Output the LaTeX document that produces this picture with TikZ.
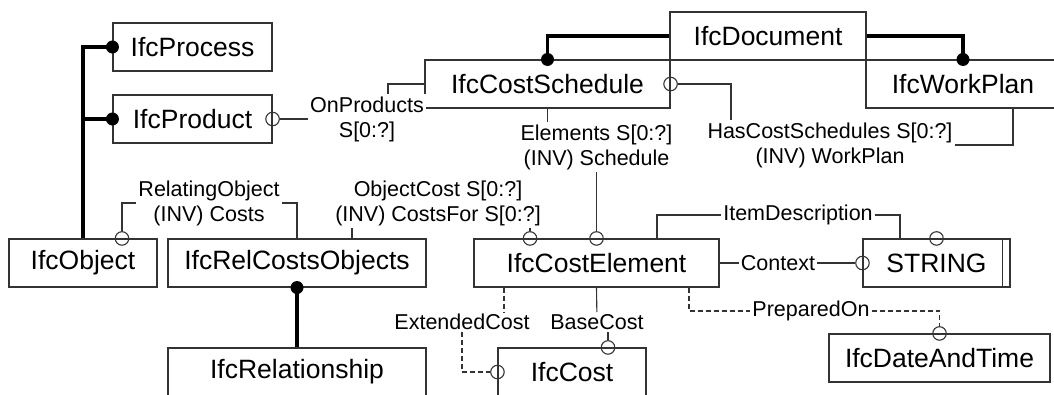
\documentclass[tikz,border=0pt]{standalone}
\usepackage{fontspec}
\setmainfont{Liberation Sans}
\begin{document}
\begin{tikzpicture}[x=1pt, y=-1pt,
    entidad/.style={draw=black!80, line width=1.1pt, rectangle, inner sep=0pt, minimum height=48pt, font=\fontsize{26.5}{30}\selectfont},
    etiqueta/.style={fill=white, inner sep=2pt, align=center, font=\fontsize{21.5}{25}\selectfont},
    linea/.style={draw=black!80, line width=1.1pt},
    rayada/.style={linea, dash pattern=on 5pt off 3pt},
    gruesa/.style={line width=3.5pt},
    punto/.style={fill=black, circle, inner sep=0pt, minimum size=13pt},
    abierto/.style={draw=black!80, line width=1.1pt, circle, inner sep=0pt, minimum size=13.5pt}]
    \useasboundingbox (0,0) rectangle (1054,394); % marco de la figura
    \clip (0,0) rectangle (1054,394);
    % entidades
    \node[entidad, minimum width=159pt] (process) at (192.5,47) {IfcProcess};
    \node[entidad, minimum width=159pt] (product) at (192.5,119) {IfcProduct};
    \node[entidad, minimum width=148pt] (object) at (83,263) {IfcObject};
    \node[entidad, minimum width=258pt] (relcosts) at (297,263) {IfcRelCostsObjects};
    \node[entidad, minimum width=258pt] (relship) at (297,372) {IfcRelationship};
    \node[entidad, minimum width=196pt] (document) at (768,36) {IfcDocument};
    \node[entidad, minimum width=245pt] (costsched) at (547.5,84) {IfcCostSchedule};
    \node[entidad, minimum width=194pt] (workplan) at (963,84) {IfcWorkPlan}; % cortado a la derecha
    \node[entidad, minimum width=245pt] (costelem) at (596.5,263) {IfcCostElement};
    \node[entidad, minimum width=147pt] (string) at (936.5,263) {STRING};
    \draw[linea] ([xshift=-8pt]string.north east) -- ([xshift=-8pt]string.south east); % doble borde
    \node[entidad, minimum width=148pt] (cost) at (572,372) {IfcCost};
    \node[entidad, minimum width=221pt] (datetime) at (939.5,358) {IfcDateAndTime};
    % etiquetas de atributos
    \node[etiqueta] (onprod) at (367,119) {OnProducts\\S[0:?]};
    \node[etiqueta] (hascs) at (830,145) {HasCostSchedules S[0:?]\\(INV) WorkPlan};
    \node[etiqueta] (elems) at (596.5,147) {Elements S[0:?]\\(INV) Schedule};
    \node[etiqueta] (relobj) at (209,203) {RelatingObject\\(INV) Costs};
    \node[etiqueta] (objcost) at (438,203) {ObjectCost S[0:?]\\(INV) CostsFor S[0:?]};
    \node[etiqueta] (itemdesc) at (798,215) {ItemDescription};
    \node[etiqueta] (context) at (778,263) {Context};
    \node[etiqueta] (prepared) at (811,311) {PreparedOn};
    \node[etiqueta] (basecost) at (597,322) {BaseCost};
    \node[etiqueta] (extcost) at (462,322) {ExtendedCost};
    % circulos abiertos
    \node[abierto] (oProd) at (product.east) {};
    \node[abierto] (oSched) at (costsched.east) {};
    \node[abierto] (oObj) at ([xshift=39pt]object.north) {};
    \node[abierto] (oElemA) at ([xshift=-66.5pt]costelem.north) {};
    \node[abierto] (oElemB) at (costelem.north) {};
    \node[abierto] (oStrTop) at (string.north) {};
    \node[abierto] (oStrL) at (string.west) {};
    \node[abierto] (oDate) at (datetime.north) {};
    \node[abierto] (oCostT) at ([xshift=36pt]cost.north) {};
    \node[abierto] (oCostL) at (cost.west) {};
    \coordinate (rcTop) at ([xshift=55pt]relcosts.north);
    \coordinate (ceTop) at ([xshift=60.5pt]costelem.north);
    \coordinate (ceBotR) at ([xshift=92.5pt]costelem.south);
    \coordinate (ceBotL) at ([xshift=-92.5pt]costelem.south);
    % conectores
    \draw[linea] (oProd) -- (onprod);
    \draw[linea] (costsched.west) -| ([xshift=21pt]onprod.north);
    \draw[linea] (oSched) -| ([xshift=-99pt]hascs.north);
    \draw[linea] (hascs.east) -| ([xshift=50pt]workplan.south);
    \draw[linea] (costsched.south) -- (costsched.south |- elems.north);
    \draw[linea] (elems.south -| oElemB) -- (oElemB);
    \draw[linea] (oObj) |- (relobj);
    \draw[linea] (relobj) -| (relcosts.north);
    \draw[linea] (rcTop) -- (rcTop |- objcost.south);
    \draw[linea] (oElemA) -- (oElemA |- objcost.south);
    \draw[linea] (ceTop) |- (itemdesc);
    \draw[linea] (itemdesc) -| ([xshift=-36.5pt]string.north);
    \draw[linea] (costelem) -- (context);
    \draw[linea] (context) -- (oStrL);
    \draw[rayada] (ceBotR) |- (prepared);
    \draw[rayada] (prepared) -| (oDate);
    \draw[linea] (costelem.south) -- (basecost);
    \draw[linea] (basecost.south -| oCostT) -- (oCostT);
    \draw[rayada] (ceBotL) -- (ceBotL |- extcost.north);
    \draw[rayada] (extcost) |- (oCostL);
    % herencia (lineas gruesas)
    \draw[gruesa] (process.west) -| (object.north);
    \draw[gruesa] (product.west) -- (product.west -| object.north);
    \draw[gruesa] (document.west) -| (costsched.north);
    \draw[gruesa] (document.east) -| (workplan.north);
    \draw[gruesa] (relcosts.south) -- (relship.north);
    \node[punto] (dProc) at (process.west) {};
    \node[punto] (dProd) at (product.west) {};
    \node[punto] (dSched) at (costsched.north) {};
    \node[punto] (dWork) at (workplan.north) {};
    \node[punto] (dRel) at (relcosts.south) {};
\end{tikzpicture}
\end{document}
